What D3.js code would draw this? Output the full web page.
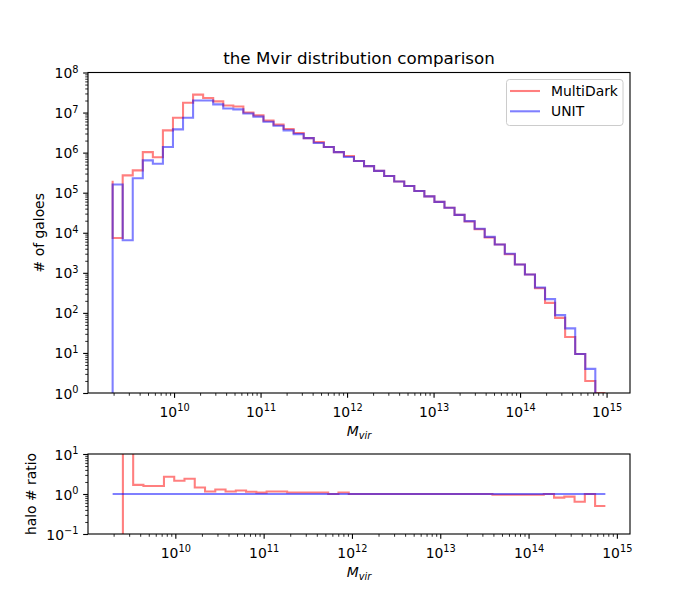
<!DOCTYPE html>
<html>
<head>
<meta charset="utf-8">
<script src="https://cdn.jsdelivr.net/npm/d3@7"></script>
<style>
  body { margin: 0; background: #fff; }
  text { font-family: "DejaVu Sans", sans-serif; fill: #000; }
</style>
</head>
<body>
<div id="root"></div>
<script>
// log10 bin range of the halo mass histogram (49 log-spaced bins)
const binLogMin = 9.29;
const binLogMax = 14.986;
const nBins = 49;

// counts drawn as steps: index 0 is the value at the first edge, index i the bin ending at edge i
const multiDark = [
  2.0e5, 7.4e3, 2.7e5, 3.6e5, 1.03e6, 7.7e5, 3.6e6, 7.4e6, 1.75e7, 2.8e7,
  2.3e7, 1.9e7, 1.5e7, 1.42e7, 1.0e7, 8.5e6, 6.3e6, 5.0e6, 3.9e6, 3.1e6,
  2.3e6, 1.83e6, 1.38e6, 1.03e6, 8.2e5, 6.2e5, 4.6e5, 3.5e5, 2.6e5, 1.9e5,
  1.47e5, 1.1e5, 8.1e4, 5.9e4, 4.2e4, 2.8e4, 1.9e4, 1.22e4, 7.6e3, 5.1e3,
  2.9e3, 1.62e3, 9.1e2, 4.1e2, 178, 75, 25, 9.4, 2, 1
];
const unit = [
  0, 1.6e5, 6.5e3, 2.3e5, 6.4e5, 5.3e5, 1.38e6, 3.8e6, 7.4e6, 2.0e7,
  2.0e7, 1.6e7, 1.26e7, 1.2e7, 9.5e6, 7.9e6, 5.9e6, 4.7e6, 3.6e6, 2.9e6,
  2.3e6, 1.74e6, 1.38e6, 1.03e6, 7.8e5, 6.2e5, 4.6e5, 3.5e5, 2.6e5, 1.9e5,
  1.47e5, 1.1e5, 8.1e4, 5.9e4, 4.2e4, 2.8e4, 1.95e4, 1.26e4, 7.9e3, 5.1e3,
  3.0e3, 1.62e3, 9.1e2, 4.3e2, 220, 88, 41, 9.4, 4, 0
];

// ratio panel (one edge fewer); null = division by zero
const multiDarkRatio = [
  null, 0.046, 41, 1.69, 1.59, 1.59, 2.69, 2.15, 2.40, 1.45,
  1.16, 1.29, 1.16, 1.22, 1.14, 1.08, 1.16, 1.16, 1.09, 1.09,
  1.09, 1.09, 1.0, 1.09, 1.0, 1.0, 1.0, 1.0, 1.0, 1.0,
  1.0, 1.0, 1.0, 1.0, 1.0, 1.0, 1.0, 1.0, 0.96, 0.96,
  0.96, 0.96, 0.96, 1.0, 0.81, 0.86, 0.64, 1.0, 0.5
];
const unitRatio = [
  null, 1, 1, 1, 1, 1, 1, 1, 1, 1,
  1, 1, 1, 1, 1, 1, 1, 1, 1, 1,
  1, 1, 1, 1, 1, 1, 1, 1, 1, 1,
  1, 1, 1, 1, 1, 1, 1, 1, 1, 1,
  1, 1, 1, 1, 1, 1, 1, 1, 1
];

const seriesNames = ["MultiDark", "UNIT"];
const seriesColors = ["#ff0000", "#0000ff"];
const xTickPowers = [10, 11, 12, 13, 14, 15];
const mainYTickPowers = [0, 1, 2, 3, 4, 5, 6, 7, 8];
const ratioYTickPowers = [-1, 0, 1];

const edges = d3.range(nBins + 1).map(i => Math.pow(10, binLogMin + i * (binLogMax - binLogMin) / nBins));

const W = 700, H = 600;
const left = 88, right = 630;
const main = { top: 72.5, bottom: 393 };
const ratio = { top: 454, bottom: 534 };
const majorLen = 4.86, minorLen = 2.78;

const svg = d3.select("#root").append("svg")
  .attr("width", W).attr("height", H)
  .attr("viewBox", `0 0 ${W} ${H}`);

// matplotlib-like autoscale with 5% margins in log space
function paddedLogDomain(xs) {
  const lo = Math.log10(d3.min(xs)), hi = Math.log10(d3.max(xs));
  const m = (hi - lo) * 0.05;
  return [Math.pow(10, lo - m), Math.pow(10, hi + m)];
}

function minorTicks(domain) {
  const out = [];
  const a = Math.floor(Math.log10(domain[0])), b = Math.ceil(Math.log10(domain[1]));
  for (let p = a; p <= b; p++) {
    for (let k = 2; k <= 9; k++) {
      const v = k * Math.pow(10, p);
      if (v >= domain[0] && v <= domain[1]) out.push(v);
    }
  }
  return out;
}

// vertices of a 'pre' step line
function stepPre(xs, ys) {
  const pts = [[xs[0], ys[0]]];
  for (let i = 1; i < xs.length; i++) {
    pts.push([xs[i - 1], ys[i]]);
    pts.push([xs[i], ys[i]]);
  }
  return pts;
}

function supLabel(sel, power) {
  sel.text(null);
  sel.append("tspan").text("10");
  sel.append("tspan").attr("dy", -5.5).attr("font-size", 9.8)
    .text(String(power).replace("-", "\u2212"));
}

function drawPanel(id, box, xEdges, series, yDomain, yPowers, yLabel, yLabelX) {
  const x = d3.scaleLog().domain(paddedLogDomain(xEdges)).range([left, right]);
  const y = d3.scaleLog().domain(yDomain).range([box.bottom, box.top]);
  const g = svg.append("g");

  g.append("clipPath").attr("id", id)
    .append("rect").attr("x", left).attr("y", box.top)
    .attr("width", right - left).attr("height", box.bottom - box.top);

  const line = d3.line()
    .defined(d => d[1] !== null && isFinite(d[1]))
    .x(d => x(d[0]))
    .y(d => y(d[1] > 0 ? d[1] : yDomain[0] * 1e-3));

  series.forEach((vals, i) => {
    g.append("path")
      .attr("clip-path", `url(#${id})`)
      .attr("d", line(stepPre(xEdges, vals)))
      .attr("fill", "none")
      .attr("stroke", seriesColors[i])
      .attr("stroke-opacity", 0.5)
      .attr("stroke-width", 2.08)
      .attr("stroke-linejoin", "miter")
      .attr("stroke-linecap", "butt");
  });

  // x axis
  const xMajor = xTickPowers.map(p => Math.pow(10, p)).filter(v => v >= x.domain()[0] && v <= x.domain()[1]);
  g.append("g").attr("transform", `translate(0,${box.bottom})`)
    .call(d3.axisBottom(x).tickValues(minorTicks(x.domain())).tickSize(minorLen).tickFormat(""))
    .call(a => a.select(".domain").remove())
    .call(a => a.selectAll("line").attr("stroke-width", 0.83));
  const gx = g.append("g").attr("transform", `translate(0,${box.bottom})`)
    .call(d3.axisBottom(x).tickValues(xMajor).tickSize(majorLen).tickFormat(""))
    .call(a => a.select(".domain").remove())
    .call(a => a.selectAll("line").attr("stroke-width", 1.11));
  gx.selectAll(".tick text")
    .attr("y", 23.5).attr("dy", null).attr("font-size", 13.9)
    .attr("font-family", "DejaVu Sans").attr("fill", "#000")
    .each(function (d) { supLabel(d3.select(this), Math.round(Math.log10(d))); });

  // y axis
  g.append("g").attr("transform", `translate(${left},0)`)
    .call(d3.axisLeft(y).tickValues(minorTicks(y.domain())).tickSize(minorLen).tickFormat(""))
    .call(a => a.select(".domain").remove())
    .call(a => a.selectAll("line").attr("stroke-width", 0.83));
  const gy = g.append("g").attr("transform", `translate(${left},0)`)
    .call(d3.axisLeft(y).tickValues(yPowers.map(p => Math.pow(10, p))).tickSize(majorLen).tickFormat(""))
    .call(a => a.select(".domain").remove())
    .call(a => a.selectAll("line").attr("stroke-width", 1.11));
  gy.selectAll(".tick text")
    .attr("x", -9.5).attr("dy", 5).attr("font-size", 13.9)
    .attr("font-family", "DejaVu Sans").attr("fill", "#000")
    .each(function (d) { supLabel(d3.select(this), Math.round(Math.log10(d))); });

  // frame
  g.append("rect").attr("x", left).attr("y", box.top)
    .attr("width", right - left).attr("height", box.bottom - box.top)
    .attr("fill", "none").attr("stroke", "#000").attr("stroke-width", 1.11);

  // x label M_vir
  const xl = g.append("text")
    .attr("x", (left + right) / 2).attr("y", box.bottom + 42.5)
    .attr("text-anchor", "middle").attr("font-size", 13.9);
  xl.append("tspan").attr("font-style", "italic").text("M");
  xl.append("tspan").attr("font-style", "italic").attr("font-size", 9.8).attr("dy", 3).text("vir");

  g.append("text")
    .attr("transform", `translate(${yLabelX},${(box.top + box.bottom) / 2}) rotate(-90)`)
    .attr("text-anchor", "middle").attr("font-size", 13.9)
    .text(yLabel);
}

const xsRatio = edges.slice(0, multiDarkRatio.length);

drawPanel("clipMain", main, edges, [multiDark, unit], [1, 1e8], mainYTickPowers, "# of galoes", 44);
drawPanel("clipRatio", ratio, xsRatio, [multiDarkRatio, unitRatio], [0.1, 10], ratioYTickPowers, "halo # ratio", 36);

// title
svg.append("text")
  .attr("x", (left + right) / 2).attr("y", 64)
  .attr("text-anchor", "middle").attr("font-size", 16.7)
  .text("the Mvir distribution comparison");

// legend
const legend = svg.append("g").attr("transform", "translate(506.5,79.5)");
legend.append("rect")
  .attr("width", 116.5).attr("height", 46).attr("rx", 3)
  .attr("fill", "#fff").attr("fill-opacity", 0.8)
  .attr("stroke", "#cccccc").attr("stroke-width", 1);
seriesNames.forEach((name, i) => {
  const yy = 11.5 + i * 20.3;
  legend.append("line")
    .attr("x1", 3.5).attr("x2", 33.5).attr("y1", yy).attr("y2", yy)
    .attr("stroke", seriesColors[i]).attr("stroke-opacity", 0.5).attr("stroke-width", 2.08);
  legend.append("text")
    .attr("x", 44.5).attr("y", yy + 5)
    .attr("font-size", 13.9)
    .text(name);
});
</script>
</body>
</html>
